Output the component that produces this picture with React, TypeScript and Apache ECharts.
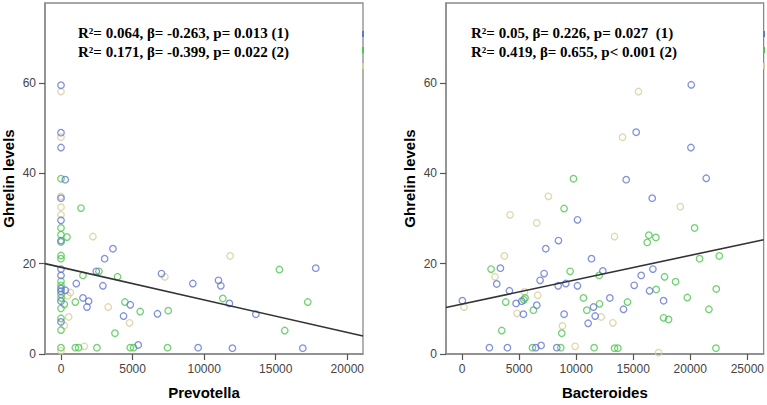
import React, { useEffect, useRef } from "react";
import * as echarts from "echarts";

type P = [number, number];

// Left panel: Prevotella vs Ghrelin levels
const prevBlue: P[] = [
  [0, 59.5], [0, 49.0], [0, 45.7], [300, 38.6], [0, 34.5], [0, 29.6], [0, 25.1], [0, 18.8], [0, 17.4],
  [0, 14.5], [0, 13.9], [300, 14.1], [0, 11.7], [0, 7.1], [3630, 23.3], [3050, 21.1], [2465, 18.3],
  [1070, 15.6], [2930, 15.1], [1535, 12.4], [1930, 11.7], [1815, 10.4], [4840, 10.9], [4370, 8.4],
  [5395, 2.0], [7020, 17.8], [9210, 15.6], [6740, 8.9], [9580, 1.4], [11000, 16.3], [11165, 15.1],
  [11765, 11.2], [13610, 8.8], [11975, 1.3], [16890, 1.3], [17795, 19.0],
];
const prevGreen: P[] = [
  [0, 38.8], [1395, 32.3], [0, 27.9], [0, 26.4], [420, 25.9], [0, 24.8], [0, 21.8], [0, 21.1],
  [2650, 18.3], [1535, 17.4], [3950, 17.1], [0, 16.1], [0, 15.2], [0, 13.2], [0, 12.4], [230, 11.0],
  [0, 10.1], [0, 7.9], [0, 5.3], [1000, 11.5], [4465, 11.5], [5535, 9.4], [7490, 9.6], [3770, 4.6],
  [0, 1.4], [1000, 1.4], [1230, 1.4], [2510, 1.4], [4840, 1.4], [5070, 1.4], [7440, 1.4],
  [11305, 12.3], [15255, 18.7], [17235, 11.5], [15630, 5.2],
];
const prevTan: P[] = [
  [0, 58.1], [0, 48.0], [0, 34.9], [0, 32.5], [0, 30.8], [2230, 26.0], [650, 13.6], [465, 12.9],
  [535, 8.2], [230, 6.3], [0, 0.7], [1630, 1.7], [3300, 10.4], [4790, 6.9], [7255, 17.1], [11815, 21.7],
];
const prevFit: P[] = [[-1117, 20.0], [21096, 3.97]];

// Right panel: Bacteroides vs Ghrelin levels
const bactBlue: P[] = [
  [30, 11.8], [2398, 1.4], [3977, 1.4], [3040, 15.5], [3363, 19.0], [4152, 14.0], [4737, 11.2],
  [5234, 11.7], [5380, 8.8], [6462, 1.4], [6930, 1.9], [6550, 10.8], [6842, 16.3], [7193, 17.8],
  [7340, 23.3], [8304, 1.4], [8450, 25.1], [8421, 15.1], [9094, 15.6], [8947, 8.8], [10117, 29.7],
  [10117, 15.1], [11345, 21.1], [11520, 10.4], [11053, 6.8], [11667, 8.4], [12339, 18.4],
  [12953, 12.4], [14152, 9.9], [14386, 38.6], [15088, 15.2], [15263, 49.1], [15700, 17.4],
  [16433, 14.0], [16667, 34.5], [16725, 18.8], [17661, 11.8], [20088, 59.6], [20058, 45.7],
  [21400, 38.9],
];
const bactGreen: P[] = [
  [2544, 18.8], [3480, 5.2], [3830, 11.5], [5420, 12.0], [5526, 12.4], [6170, 1.4], [6257, 9.7],
  [8655, 1.4], [8743, 4.6], [8947, 32.2], [9474, 18.3], [9766, 38.8], [10643, 12.4], [10936, 9.7],
  [11579, 1.4], [12018, 17.4], [12047, 11.1], [13365, 1.3], [13658, 1.3], [14503, 11.5],
  [16228, 24.7], [16375, 26.3], [16988, 25.8], [17018, 14.3], [17748, 17.1], [17661, 8.0],
  [18099, 7.65], [18713, 16.0], [19737, 12.5], [20380, 27.9], [20818, 21.1], [21634, 9.9],
  [22281, 14.4], [22544, 21.7], [22251, 1.3],
];
const bactTan: P[] = [
  [175, 10.4], [2895, 17.1], [3713, 21.7], [4210, 30.8], [4825, 9.0], [5468, 13.75], [6550, 29.0],
  [6637, 13.0], [7573, 34.9], [8800, 6.2], [9912, 1.7], [12193, 8.2], [13219, 6.9], [13365, 26.0],
  [14065, 48.0], [15465, 58.1], [17222, 0.3], [19123, 32.6],
];
const bactFit: P[] = [[-1404, 10.3], [26430, 25.3]];

const prevTicks = [0, 5000, 10000, 15000, 20000];
const bactTicks = [0, 5000, 10000, 15000, 20000, 25000];
const yTicks = [0, 20, 40, 60];

const prevStats = ["R²= 0.064, β= -0.263, p= 0.013 (1)", "R²= 0.171, β= -0.399, p= 0.022 (2)"];
const bactStats = ["R²= 0.05, β= 0.226, p= 0.027  (1)", "R²= 0.419, β= 0.655, p< 0.001 (2)"];

const BLUE = "#6375d3";
const GREEN = "#4cc74c";
const TAN = "#d8cc98";
const FRAME = "#8a8a8a";

const plain = (v: number) => String(v);

function xAxis(grid: number, min: number, max: number, ticks: number[], name: string) {
  return {
    gridIndex: grid,
    type: "value",
    min,
    max,
    name,
    nameLocation: "middle",
    nameGap: 31,
    nameTextStyle: { fontFamily: "Liberation Sans", fontWeight: "bold", fontSize: 15, color: "#000" },
    axisLine: { show: true, onZero: false, lineStyle: { color: FRAME, width: 1.5 } },
    axisTick: { show: true, length: 6, customValues: ticks, lineStyle: { color: "#555", width: 1.2 } },
    axisLabel: {
      customValues: ticks,
      formatter: plain,
      color: "#444",
      fontSize: 12,
      fontFamily: "Liberation Sans",
      margin: 9,
    },
    splitLine: { show: false },
  };
}

function yAxis(grid: number) {
  return {
    gridIndex: grid,
    type: "value",
    min: 0,
    max: 77.7,
    name: "Ghrelin levels",
    nameLocation: "middle",
    nameGap: 29,
    nameTextStyle: { fontFamily: "Liberation Sans", fontWeight: "bold", fontSize: 15, color: "#000" },
    axisLine: { show: true, onZero: false, lineStyle: { color: FRAME, width: 1.5 } },
    axisTick: { show: true, length: 6, customValues: yTicks, lineStyle: { color: "#555", width: 1.2 } },
    axisLabel: {
      customValues: yTicks,
      formatter: plain,
      color: "#444",
      fontSize: 12,
      fontFamily: "Liberation Sans",
      margin: 9,
    },
    splitLine: { show: false },
  };
}

function scatter(idx: number, data: P[], color: string) {
  return {
    type: "scatter",
    xAxisIndex: idx,
    yAxisIndex: idx,
    data,
    symbol: "circle",
    symbolSize: 6.5,
    itemStyle: { color: "transparent", borderColor: color, borderWidth: 1.3 },
    emphasis: { disabled: true },
  };
}

function fit(idx: number, data: P[]) {
  return {
    type: "line",
    xAxisIndex: idx,
    yAxisIndex: idx,
    data,
    symbol: "none",
    lineStyle: { color: "#333", width: 1.6 },
    emphasis: { disabled: true },
  };
}

function statText(x: number, lines: string[]) {
  return lines.map((t, i) => ({
    type: "text",
    left: x,
    top: 25 + i * 19,
    style: {
      text: t,
      fontFamily: "Liberation Serif",
      fontWeight: "bold",
      fontSize: 15,
      fill: "#000",
    },
  }));
}

function legendStubs(x: number) {
  return [BLUE, GREEN, TAN].map((c, i) => ({
    type: "rect",
    shape: { x, y: 31 + i * 16, width: 2, height: 6 },
    style: { fill: c },
  }));
}

export default function App() {
  const ref = useRef<HTMLDivElement>(null);
  useEffect(() => {
    document.body.style.margin = "0";
    if (!ref.current) return;
    const chart = echarts.init(ref.current, undefined, { renderer: "svg" });
    chart.setOption({
      animation: false,
      backgroundColor: "#fff",
      grid: [
        { left: 45, top: 3, width: 318, height: 353, show: true, borderColor: FRAME, borderWidth: 1.3 },
        { left: 446, top: 3, width: 318, height: 353, show: true, borderColor: FRAME, borderWidth: 1.3 },
      ],
      xAxis: [
        xAxis(0, -1117, 21096, prevTicks, "Prevotella"),
        xAxis(1, -1404, 26430, bactTicks, "Bacteroides"),
      ],
      yAxis: [yAxis(0), yAxis(1)],
      series: [
        scatter(0, prevTan, TAN),
        scatter(0, prevGreen, GREEN),
        scatter(0, prevBlue, BLUE),
        fit(0, prevFit),
        scatter(1, bactTan, TAN),
        scatter(1, bactGreen, GREEN),
        scatter(1, bactBlue, BLUE),
        fit(1, bactFit),
      ],
      graphic: [
        ...statText(78, prevStats),
        ...statText(471, bactStats),
        ...legendStubs(362),
        ...legendStubs(763),
      ],
    });
    return () => chart.dispose();
  }, []);
  return <div ref={ref} style={{ width: 767, height: 405 }} />;
}
